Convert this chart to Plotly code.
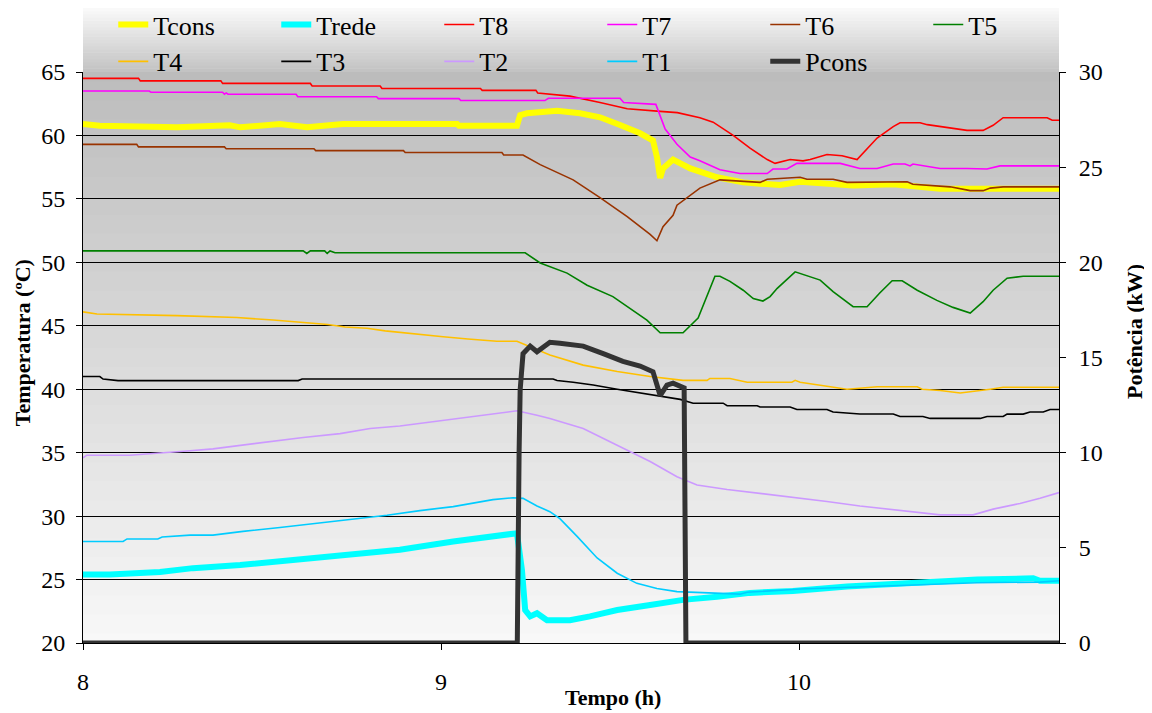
import plotly.graph_objects as go

# values: time in hours, temperatures in degC, power in kW
tcons_t = [8.0, 8.047, 8.263, 8.391, 8.41, 8.439, 8.486, 8.55, 8.626, 8.682, 8.726, 9.045, 9.05, 9.212,
           9.221, 9.24, 9.324, 9.388, 9.444, 9.5, 9.556, 9.592, 9.603, 9.612, 9.62, 9.648, 9.696, 9.771,
           9.844, 9.891, 9.947, 10.003, 10.078, 10.151, 10.263, 10.394, 10.726]
tcons_v = [60.9, 60.77, 60.64, 60.74, 60.8, 60.64, 60.74, 60.9, 60.64, 60.74, 60.9, 60.9, 60.77, 60.77,
           61.6, 61.75, 61.95, 61.75, 61.43, 60.82, 60.17, 59.6, 58.3, 56.65, 57.4, 58.1, 57.4, 56.7,
           56.3, 56.2, 56.1, 56.35, 56.2, 56.05, 56.15, 55.8, 55.8]

trede_t = [8.0, 8.075, 8.215, 8.307, 8.439, 8.587, 8.737, 8.885, 9.034, 9.201, 9.212, 9.226, 9.235, 9.249,
           9.268, 9.296, 9.36, 9.416, 9.492, 9.584, 9.676, 9.771, 9.863, 9.983, 10.134, 10.302, 10.497,
           10.654, 10.673, 10.726]
trede_v = [25.4, 25.4, 25.6, 25.9, 26.15, 26.55, 26.95, 27.35, 28.0, 28.65, 28.65, 25.75, 22.6, 22.1,
           22.35, 21.8, 21.8, 22.1, 22.6, 23.0, 23.4, 23.65, 23.95, 24.1, 24.45, 24.7, 25.0,
           25.1, 24.9, 24.9]

t8_t = [8.0, 8.155, 8.16, 8.385, 8.39, 8.635, 8.64, 8.83, 8.835, 9.11, 9.115, 9.265, 9.27, 9.36, 9.444,
        9.52, 9.612, 9.66, 9.723, 9.76, 9.816, 9.863, 9.911, 9.933, 9.975, 10.011, 10.031, 10.078, 10.12,
        10.162, 10.218, 10.263, 10.282, 10.338, 10.358, 10.413, 10.469, 10.514, 10.542, 10.57, 10.693,
        10.707, 10.726]
t8_v = [64.5, 64.5, 64.3, 64.3, 64.1, 64.1, 63.9, 63.9, 63.7, 63.7, 63.55, 63.55, 63.35, 63.1, 62.6,
        62.1, 61.9, 61.8, 61.4, 61.05, 60.0, 59.0, 58.1, 57.8, 58.1, 58.0, 58.1, 58.5, 58.4,
        58.1, 59.8, 60.7, 61.0, 61.0, 60.85, 60.65, 60.4, 60.4, 60.8, 61.4, 61.4,
        61.2, 61.2]

t7_t = [8.0, 8.185, 8.19, 8.39, 8.395, 8.40, 8.405, 8.595, 8.60, 8.82, 8.825, 9.05, 9.055, 9.29, 9.30,
        9.50, 9.51, 9.60, 9.626, 9.659, 9.696, 9.723, 9.779, 9.835, 9.911, 9.927, 9.966, 9.994, 10.115,
        10.17, 10.218, 10.263, 10.296, 10.31, 10.318, 10.394, 10.469, 10.525, 10.561, 10.726]
t7_v = [63.5, 63.5, 63.4, 63.4, 63.25, 63.35, 63.25, 63.25, 63.05, 63.05, 62.9, 62.9, 62.75, 62.75, 62.93,
        62.93, 62.6, 62.45, 60.5, 59.3, 58.3, 58.0, 57.3, 57.0, 57.0, 57.35, 57.35, 57.8, 57.8,
        57.4, 57.4, 57.75, 57.75, 57.6, 57.75, 57.4, 57.4, 57.35, 57.6, 57.6]

t6_t = [8.0, 8.15, 8.155, 8.395, 8.40, 8.645, 8.65, 8.895, 8.9, 9.17, 9.175, 9.229, 9.277, 9.369, 9.444,
        9.52, 9.584, 9.603, 9.62, 9.648, 9.659, 9.687, 9.723, 9.779, 9.891, 9.911, 10.003, 10.022, 10.095,
        10.134, 10.246, 10.263, 10.302, 10.318, 10.422, 10.478, 10.514, 10.534, 10.57, 10.726]
t6_v = [59.3, 59.3, 59.1, 59.1, 58.95, 58.95, 58.8, 58.8, 58.65, 58.65, 58.46, 58.46, 57.7, 56.5, 55.1,
        53.6, 52.2, 51.7, 52.8, 53.7, 54.5, 55.1, 55.85, 56.5, 56.3, 56.55, 56.7, 56.55, 56.55,
        56.3, 56.3, 56.35, 56.35, 56.15, 55.95, 55.65, 55.65, 55.85, 55.95, 55.95]

t5_t = [8.0, 8.615, 8.625, 8.635, 8.675, 8.682, 8.69, 8.704, 9.235, 9.277, 9.352, 9.408, 9.48, 9.536,
        9.575, 9.612, 9.676, 9.718, 9.765, 9.779, 9.807, 9.844, 9.872, 9.899, 9.919, 9.939, 9.969, 9.989,
        10.059, 10.095, 10.151, 10.19, 10.226, 10.26, 10.288, 10.33, 10.385, 10.43, 10.478, 10.514,
        10.542, 10.581, 10.626, 10.726]
t5_v = [50.9, 50.9, 50.7, 50.9, 50.9, 50.7, 50.9, 50.75, 50.75, 49.95, 49.15, 48.2, 47.3, 46.25,
        45.45, 44.45, 44.45, 45.6, 48.9, 48.9, 48.5, 47.8, 47.15, 46.95, 47.3, 47.95, 48.75, 49.25,
        48.6, 47.7, 46.5, 46.5, 47.6, 48.55, 48.55, 47.8, 47.0, 46.45, 46.0, 46.9,
        47.8, 48.75, 48.9, 48.9]

t4_t = [8.0, 8.039, 8.263, 8.43, 8.531, 8.612, 8.684, 8.732, 8.793, 8.844, 8.894, 8.941, 9.006, 9.075,
        9.156, 9.212, 9.249, 9.304, 9.397, 9.492, 9.584, 9.676, 9.743, 9.751, 9.807, 9.855, 9.98, 9.989,
        10.003, 10.05, 10.134, 10.218, 10.33, 10.344, 10.394, 10.45, 10.497, 10.534, 10.57, 10.726]
t4_v = [46.1, 45.93, 45.8, 45.65, 45.45, 45.28, 45.1, 44.9, 44.8, 44.6, 44.45, 44.3, 44.14, 43.96,
        43.78, 43.78, 43.35, 42.7, 41.9, 41.4, 41.0, 40.7, 40.7, 40.85, 40.85, 40.55, 40.55, 40.7,
        40.55, 40.35, 40.0, 40.2, 40.2, 40.0, 39.9, 39.7, 39.9, 40.0, 40.15, 40.15]

t3_t = [8.0, 8.047, 8.056, 8.098, 8.601, 8.612, 9.313, 9.324, 9.369, 9.425, 9.492, 9.564, 9.631, 9.668,
        9.704, 9.788, 9.799, 9.883, 9.891, 9.975, 9.994, 10.078, 10.095, 10.17, 10.263, 10.282, 10.346,
        10.366, 10.506, 10.525, 10.57, 10.581, 10.626, 10.645, 10.682, 10.701, 10.726]
t3_v = [41.0, 41.0, 40.8, 40.68, 40.68, 40.8, 40.8, 40.68, 40.55, 40.33, 40.0, 39.68, 39.4, 39.2,
        38.9, 38.9, 38.7, 38.7, 38.6, 38.6, 38.4, 38.4, 38.2, 38.05, 38.05, 37.85, 37.85,
        37.7, 37.7, 37.85, 37.85, 38.04, 38.04, 38.2, 38.2, 38.4, 38.4]

t2_t = [8.0, 8.011, 8.131, 8.215, 8.299, 8.363, 8.419, 8.514, 8.615, 8.718, 8.802, 8.885, 8.989, 9.081,
        9.156, 9.212, 9.268, 9.304, 9.397, 9.492, 9.584, 9.659, 9.715, 9.799, 9.891, 9.983, 10.078,
        10.17, 10.263, 10.358, 10.394, 10.486, 10.542, 10.617, 10.673, 10.726]
t2_v = [34.6, 34.8, 34.8, 34.95, 35.15, 35.3, 35.5, 35.85, 36.2, 36.5, 36.9, 37.1, 37.5, 37.8,
        38.1, 38.3, 37.95, 37.7, 36.9, 35.6, 34.3, 33.1, 32.45, 32.1, 31.8, 31.5, 31.15,
        30.8, 30.5, 30.2, 30.1, 30.1, 30.55, 31.0, 31.4, 31.85]

t1_t = [8.0, 8.112, 8.123, 8.209, 8.221, 8.299, 8.363, 8.447, 8.55, 8.642, 8.754, 8.849, 8.941, 9.034,
        9.145, 9.201, 9.229, 9.268, 9.304, 9.332, 9.38, 9.436, 9.492, 9.547, 9.603, 9.659, 9.835, 9.855,
        10.003, 10.19, 10.318, 10.497, 10.673, 10.726]
t1_v = [28.0, 28.0, 28.2, 28.2, 28.35, 28.5, 28.5, 28.8, 29.1, 29.4, 29.8, 30.07, 30.43, 30.75,
        31.3, 31.45, 31.4, 30.8, 30.35, 29.8, 28.4, 26.7, 25.5, 24.7, 24.3, 24.05, 23.85, 24.0,
        24.25, 24.45, 24.6, 24.75, 24.8, 24.9]

pcons_t = [8.0, 9.213, 9.218, 9.221, 9.229, 9.249, 9.268, 9.304, 9.332, 9.397, 9.453, 9.508, 9.556,
           9.592, 9.612, 9.631, 9.648, 9.676, 9.679, 9.684, 10.726]
pcons_v = [0, 0, 10.0, 13.3, 15.2, 15.6, 15.3, 15.8, 15.75, 15.6, 15.2, 14.8, 14.55,
           14.25, 13.0, 13.55, 13.65, 13.4, 13.4, 0, 0]

x_end = 10.726
FONT = "Liberation Serif"

series = [
    ("Tcons", tcons_t, tcons_v, "#FFFF00", 6, "y"),
    ("Trede", trede_t, trede_v, "#00FFFF", 6, "y"),
    ("T8", t8_t, t8_v, "#FF0000", 1.6, "y"),
    ("T7", t7_t, t7_v, "#FF00FF", 1.6, "y"),
    ("T6", t6_t, t6_v, "#993300", 1.6, "y"),
    ("T5", t5_t, t5_v, "#008000", 1.6, "y"),
    ("T4", t4_t, t4_v, "#FFC000", 1.6, "y"),
    ("T3", t3_t, t3_v, "#000000", 1.6, "y"),
    ("T2", t2_t, t2_v, "#CC99FF", 1.6, "y"),
    ("T1", t1_t, t1_v, "#00CCFF", 1.6, "y"),
    ("Pcons", pcons_t, pcons_v, "#333333", 5, "y2"),
]

fig = go.Figure()
for name, t, v, color, width, yax in series:
    fig.add_trace(go.Scatter(x=t, y=v, name=name, mode="lines", yaxis=yax,
                             line=dict(color=color, width=width)))


def gray(c):
    return f"rgb({c},{c},{c})"


# gradient backgrounds built from thin stripes (plot area, then the legend band above it)
n = 60
for i in range(n):
    c = round(248 - (248 - 188) * (i + 0.5) / n)
    fig.add_shape(type="rect", xref="paper", yref="paper", x0=0, x1=1,
                  y0=i / n, y1=(i + 1) / n + 0.002, fillcolor=gray(c), line_width=0, layer="below")
band = 64 / 571
m = 20
for i in range(m):
    c = round(194 + (250 - 194) * (i + 0.5) / m)
    fig.add_shape(type="rect", xref="paper", yref="paper", x0=0, x1=1,
                  y0=1 + band * i / m, y1=1 + band * (i + 1) / m + 0.001,
                  fillcolor=gray(c), line_width=0, layer="below")

title_font = dict(family=FONT, size=22, color="black")
fig.add_annotation(text="<b>Tempo (h)</b>", xref="paper", yref="paper", x=0.543, y=-0.095,
                   xanchor="center", yanchor="middle", showarrow=False, font=title_font)
fig.add_annotation(text="<b>Temperatura (ºC)</b>", xref="paper", yref="paper", x=-0.0625, y=0.525,
                   xanchor="center", yanchor="middle", textangle=-90, showarrow=False, font=title_font)
fig.add_annotation(text="<b>Potência (kW)</b>", xref="paper", yref="paper", x=1.078, y=0.545,
                   xanchor="center", yanchor="middle", textangle=-90, showarrow=False, font=title_font)

fig.update_layout(
    width=1152, height=713,
    margin=dict(l=75, r=101, t=64, b=78, autoexpand=False),
    paper_bgcolor="white", plot_bgcolor="rgba(0,0,0,0)",
    font=dict(family=FONT, size=24, color="black"),
    showlegend=True,
    legend=dict(orientation="h", x=0.031, y=1 + band + 0.012, xanchor="left", yanchor="top",
                entrywidth=118, bgcolor="rgba(0,0,0,0)", font=dict(family=FONT, size=26),
                traceorder="normal"),
    xaxis=dict(range=[8, x_end], tickvals=[8, 9, 10], ticks="outside", ticklen=6,
               tickcolor="black", showline=True, linecolor="black", linewidth=1,
               showgrid=False, zeroline=False, ticklabelstandoff=11, automargin=False),
    yaxis=dict(range=[20, 65], dtick=5, ticks="outside", ticklen=6, tickcolor="black",
               showline=True, linecolor="black", linewidth=1, showgrid=True,
               gridcolor="black", gridwidth=1, zeroline=False, ticklabelstandoff=6,
               automargin=False),
    yaxis2=dict(range=[0, 30], dtick=5, overlaying="y", side="right", ticks="outside",
                ticklen=6, tickcolor="black", showline=True, linecolor="black", linewidth=1,
                showgrid=False, zeroline=False, ticklabelstandoff=8, automargin=False),
)

fig.write_html("out.html")
